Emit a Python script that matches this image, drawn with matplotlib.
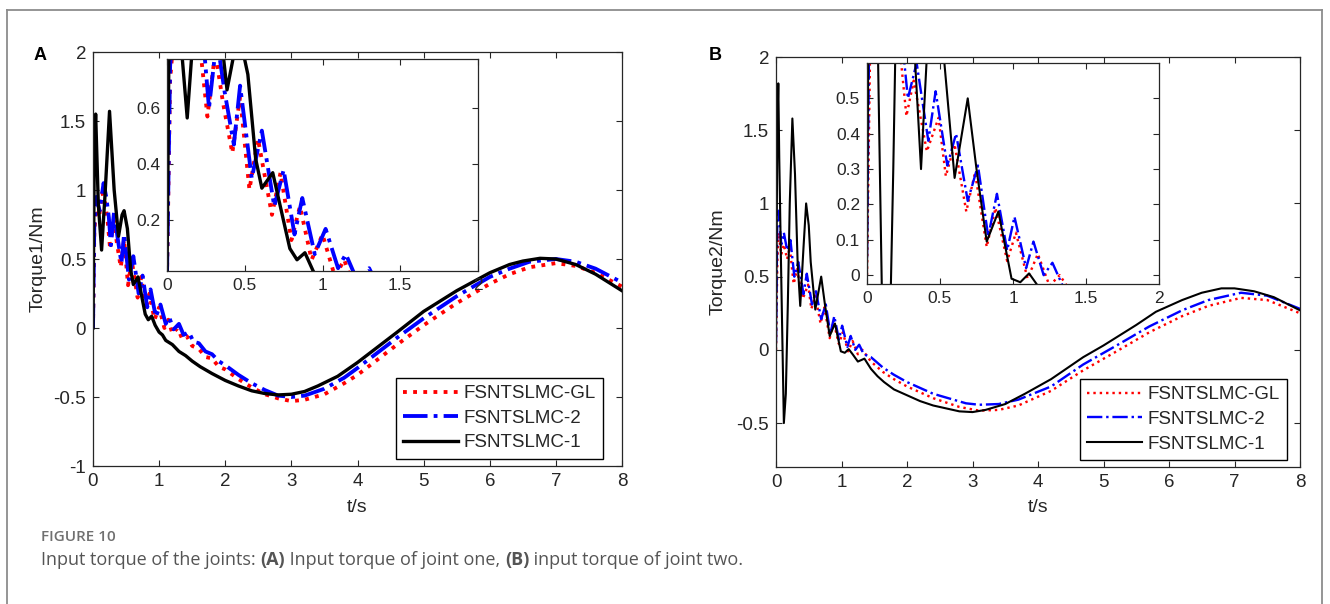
import matplotlib.pyplot as plt
from matplotlib.lines import Line2D

plt.rcParams['font.family'] = ['Liberation Sans', 'DejaVu Sans']

labels = ['FSNTSLMC-GL', 'FSNTSLMC-2', 'FSNTSLMC-1']

# joint one (panel A)
t1_gl = [0, 0.02, 0.05, 0.09, 0.14, 0.18, 0.22, 0.26, 0.31, 0.36, 0.42, 0.47, 0.53, 0.585,
         0.675, 0.73, 0.80, 0.855, 0.93, 1.0, 1.08, 1.14, 1.2, 1.28, 1.35, 1.42, 1.5, 1.6,
         1.7, 1.8, 1.9, 2.0, 2.2, 2.4, 2.6, 2.8, 3.0, 3.2, 3.5, 3.8, 4.0, 4.3, 4.6, 5.0,
         5.5, 6.0, 6.3, 6.6, 7.0, 7.3, 7.6, 8.0]
q1_gl = [0, 0.7, 0.9, 0.8, 0.98, 0.92, 0.78, 0.57, 0.80, 0.62, 0.44, 0.64, 0.31, 0.49,
         0.22, 0.37, 0.13, 0.25, 0.06, 0.15, 0.0, 0.06, -0.04, 0.0, -0.08, -0.06, -0.13, -0.15,
         -0.21, -0.22, -0.28, -0.30, -0.37, -0.43, -0.48, -0.51, -0.53, -0.52, -0.48, -0.40, -0.34, -0.23, -0.12, 0.02,
         0.18, 0.32, 0.39, 0.44, 0.47, 0.45, 0.40, 0.30]

t1_2 = [0, 0.02, 0.05, 0.1, 0.16, 0.2, 0.24, 0.27, 0.32, 0.37, 0.43, 0.47, 0.545, 0.61,
        0.69, 0.75, 0.82, 0.87, 0.95, 1.02, 1.1, 1.15, 1.22, 1.3, 1.37, 1.45, 1.52, 1.6,
        1.7, 1.8, 1.9, 2.0, 2.2, 2.4, 2.6, 2.8, 3.0, 3.2, 3.5, 3.8, 4.0, 4.3, 4.6, 5.0,
        5.5, 6.0, 6.3, 6.6, 7.0, 7.3, 7.6, 8.0]
q1_2 = [0, 0.75, 0.95, 0.85, 1.05, 0.95, 0.8, 0.6, 0.85, 0.66, 0.47, 0.68, 0.35, 0.52,
        0.25, 0.38, 0.15, 0.28, 0.08, 0.17, 0.03, 0.08, -0.01, 0.03, -0.05, -0.03, -0.10, -0.11,
        -0.17, -0.19, -0.24, -0.27, -0.34, -0.40, -0.45, -0.49, -0.50, -0.49, -0.44, -0.36, -0.29, -0.18, -0.07, 0.07,
        0.23, 0.37, 0.43, 0.48, 0.50, 0.48, 0.43, 0.33]

t1_1 = [0, 0.02, 0.04, 0.08, 0.13, 0.18, 0.25, 0.32, 0.386, 0.44, 0.47, 0.52, 0.57, 0.61,
        0.68, 0.745, 0.79, 0.836, 0.887, 0.94, 1.0, 1.05, 1.1, 1.2, 1.3, 1.4, 1.5, 1.62,
        1.8, 2.0, 2.2, 2.4, 2.6, 2.8, 3.0, 3.2, 3.4, 3.7, 4.0, 4.3, 4.6, 5.0, 5.5, 6.0,
        6.3, 6.5, 6.76, 7.0, 7.3, 7.6, 8.0]
q1_1 = [0, 1.3, 1.55, 0.9, 0.565, 0.95, 1.57, 1.0, 0.665, 0.82, 0.85, 0.72, 0.42, 0.315,
        0.37, 0.21, 0.1, 0.06, 0.085, 0.02, -0.03, -0.05, -0.09, -0.12, -0.17, -0.2, -0.24, -0.28,
        -0.33, -0.38, -0.42, -0.455, -0.475, -0.485, -0.48, -0.46, -0.42, -0.35, -0.25, -0.14, -0.03, 0.12, 0.27, 0.40,
        0.46, 0.485, 0.505, 0.50, 0.46, 0.39, 0.27]

# joint two (panel B)
t2_gl = [0, 0.02, 0.04, 0.08, 0.12, 0.17, 0.21, 0.27, 0.32, 0.41, 0.49, 0.54, 0.60, 0.68,
         0.74, 0.82, 0.88, 0.96, 1.02, 1.10, 1.17, 1.25, 1.32, 1.45, 1.63, 1.8, 2.0, 2.4,
         2.8, 3.1, 3.4, 3.7, 4.2, 4.69, 5.2, 5.7, 6.2, 6.6, 7.1, 7.5, 8.0]
q2_gl = [0, 0.6, 0.8, 0.65, 0.72, 0.62, 0.70, 0.45, 0.55, 0.35, 0.445, 0.28, 0.37, 0.18,
         0.29, 0.08, 0.19, 0.04, 0.12, -0.01, 0.06, -0.03, 0.0, -0.08, -0.15, -0.20, -0.25, -0.33,
         -0.39, -0.415, -0.41, -0.38, -0.28, -0.14, -0.01, 0.12, 0.23, 0.30, 0.355, 0.34, 0.25]

t2_2 = [0, 0.02, 0.04, 0.08, 0.12, 0.17, 0.22, 0.28, 0.34, 0.42, 0.47, 0.55, 0.61, 0.69,
        0.76, 0.83, 0.89, 0.96, 1.01, 1.09, 1.14, 1.21, 1.27, 1.34, 1.45, 1.63, 1.8, 2.0,
        2.4, 2.9, 3.1, 3.4, 3.7, 4.2, 4.69, 5.2, 5.7, 6.2, 6.6, 7.1, 7.5, 8.0]
q2_2 = [0.05, 0.9, 0.95, 0.72, 0.8, 0.68, 0.75, 0.5, 0.6, 0.38, 0.52, 0.31, 0.40, 0.21,
        0.31, 0.11, 0.23, 0.07, 0.165, 0.02, 0.095, 0.0, 0.035, -0.03, -0.05, -0.12, -0.17, -0.22,
        -0.30, -0.365, -0.375, -0.37, -0.34, -0.25, -0.10, 0.03, 0.16, 0.27, 0.34, 0.39, 0.37, 0.28]

t2_1 = [0, 0.02, 0.035, 0.05, 0.08, 0.12, 0.15, 0.18, 0.21, 0.25, 0.29, 0.33, 0.37, 0.42,
        0.46, 0.50, 0.53, 0.60, 0.69, 0.75, 0.82, 0.90, 0.99, 1.05, 1.11, 1.17, 1.25, 1.35,
        1.45, 1.55, 1.65, 1.8, 2.0, 2.2, 2.4, 2.6, 2.8, 3.0, 3.2, 3.5, 3.8, 4.2, 4.69, 5.0,
        5.5, 5.8, 6.2, 6.5, 6.8, 7.0, 7.3, 7.6, 8.0]
q2_1 = [0, 1.5, 1.82, 1.3, 0.5, -0.5, -0.3, 0.3, 1.0, 1.58, 1.2, 0.6, 0.3, 0.7,
        1.0, 0.85, 0.6, 0.275, 0.5, 0.3, 0.095, 0.18, -0.01, -0.02, 0.005, -0.03, -0.08, -0.06,
        -0.13, -0.18, -0.22, -0.27, -0.31, -0.35, -0.38, -0.40, -0.42, -0.425, -0.41, -0.37, -0.30, -0.20, -0.05, 0.03,
        0.17, 0.26, 0.34, 0.39, 0.42, 0.42, 0.40, 0.36, 0.27]

INK = '#262626'


def style_axes(ax, fs):
    ax.tick_params(direction='in', top=True, right=True, labelsize=fs, colors=INK,
                   length=4, width=0.8, pad=5)
    for s in ax.spines.values():
        s.set_linewidth(0.9)
        s.set_color(INK)


def draw_lines(ax, ts, qs, lw):
    ax.plot(ts[0], qs[0], color='#ff0000', ls=':', lw=lw * 1.15, label=labels[0])
    ax.plot(ts[1], qs[1], color='#0000ff', ls='-.', lw=lw * 1.15, label=labels[1])
    ax.plot(ts[2], qs[2], color='black', ls='-', lw=lw, label=labels[2])


fig = plt.figure(figsize=(13.3, 6.04), dpi=100)
W, H = 1330.0, 604.0


def px_axes(x0, y0, x1, y1):
    return fig.add_axes([x0 / W, 1 - y1 / H, (x1 - x0) / W, (y1 - y0) / H])


panels = [
    dict(box=(93, 52, 622, 466), inset=(167, 59, 478, 271), ts=(t1_gl, t1_2, t1_1),
         qs=(q1_gl, q1_2, q1_1), ylim=(-1, 2), yt=[-1, -0.5, 0, 0.5, 1, 1.5, 2],
         ylab='Torque1/Nm', lw=2.4, iylim=(0.02, 0.775), iyt=[0.2, 0.4, 0.6],
         leg=(0.964, 0.017), letter='A', lx=40, ylx=38),
    dict(box=(776, 57, 1300, 467), inset=(867, 63, 1159, 284), ts=(t2_gl, t2_2, t2_1),
         qs=(q2_gl, q2_2, q2_1), ylim=(-0.8, 2), yt=[-0.5, 0, 0.5, 1, 1.5, 2],
         ylab='Torque2/Nm', lw=1.5, iylim=(-0.025, 0.6), iyt=[0, 0.1, 0.2, 0.3, 0.4, 0.5],
         leg=(0.975, 0.017), letter='B', lx=715, ylx=718),
]

for p in panels:
    x0, y0, x1, y1 = p['box']
    ax = px_axes(x0, y0, x1, y1)
    draw_lines(ax, p['ts'], p['qs'], p['lw'])
    ax.set_xlim(0, 8)
    ax.set_ylim(*p['ylim'])
    ax.set_xticks(range(9))
    ax.set_yticks(p['yt'])
    ax.set_yticklabels([f'{v:g}' for v in p['yt']])
    style_axes(ax, 13.5)
    ax.set_xlabel('t/s', fontsize=14, color=INK)
    ax.xaxis.set_label_coords(0.5, -(508 - y1) / (y1 - y0))
    ax.xaxis.label.set_va('center')
    ax.set_ylabel(p['ylab'], fontsize=14, color=INK)
    ax.yaxis.set_label_coords(-(x0 - p['ylx']) / (x1 - x0), 0.5)
    ax.yaxis.label.set_va('center')
    leg = ax.legend(loc='lower right', bbox_to_anchor=p['leg'], borderaxespad=0,
                    fontsize=13.5, fancybox=False, framealpha=1, edgecolor='black',
                    handlelength=2.9, labelspacing=0.4, borderpad=0.4, handletextpad=0.3)
    leg.get_frame().set_linewidth(1.0)
    for txt in leg.get_texts():
        txt.set_color(INK)

    ix0, iy0, ix1, iy1 = p['inset']
    ins = px_axes(ix0, iy0, ix1, iy1)
    draw_lines(ins, p['ts'], p['qs'], p['lw'])
    ins.set_xlim(0, 2)
    ins.set_ylim(*p['iylim'])
    ins.set_xticks([0, 0.5, 1, 1.5, 2])
    ins.set_xticklabels(['0', '0.5', '1', '1.5', '2'])
    ins.set_yticks(p['iyt'])
    ins.set_yticklabels([f'{v:g}' for v in p['iyt']])
    style_axes(ins, 12.5)

    fig.text(p['lx'] / W, 1 - 55 / H, p['letter'], fontsize=13, fontweight='bold',
             ha='center', va='center', color='black')

# caption
cap_kw = dict(fontsize=13, color='#555555', family=['Open Sans', 'DejaVu Sans'])
fig.text(41 / W, 1 - 537 / H, 'FIGURE 10', fontsize=11, color='#707070',
         family=['Open Sans', 'DejaVu Sans'], fontweight='semibold', va='center')
parts = [('Input torque of the joints: ', 'normal'), ('(A)', 'bold'),
         (' Input torque of joint one, ', 'normal'), ('(B)', 'bold'),
         (' input torque of joint two.', 'normal')]
cap_texts = [fig.text(41 / W, 1 - 560 / H, s, fontweight=wgt, va='center', **cap_kw)
             for s, wgt in parts]
fig.canvas.draw()
r = fig.canvas.get_renderer()
x = cap_texts[0].get_window_extent(r).x1
for t in cap_texts[1:]:
    t.set_position((x / fig.bbox.width, 1 - 560 / H))
    x = t.get_window_extent(r).x1

# outer frame
for xs, ys in [((7, 7), (10, 604)), ((7, 1322), (10, 10)), ((1322, 1322), (10, 604))]:
    fig.add_artist(Line2D([v / W for v in xs], [1 - v / H for v in ys],
                          color='#8c8c8c', lw=1.3, transform=fig.transFigure))

fig.savefig('out.png', dpi=100)
